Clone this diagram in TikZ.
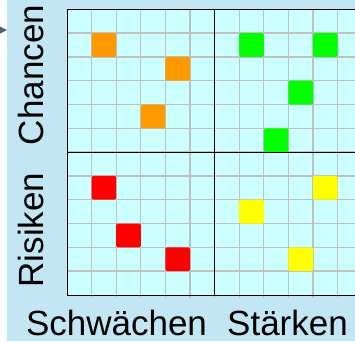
\documentclass[tikz,border=0pt]{standalone}
\usepackage{fontspec}
\setmainfont{Liberation Sans}
\definecolor{bgblue}{HTML}{C2E6F4}
\definecolor{cellc}{HTML}{CCFFFF}
\definecolor{gridc}{HTML}{C0C0C0}
\definecolor{orangec}{HTML}{FF9900}
\definecolor{greenc}{HTML}{00FF00}
\definecolor{redc}{HTML}{FF0000}
\definecolor{yellowc}{HTML}{FFFF00}
\definecolor{arrowc}{HTML}{4A6272}
\tikzset{
  gridline/.style={draw=gridc, line width=1.3pt},
  axisline/.style={draw=black, line width=1pt},
  sqmark/.style={fill=#1, rounded corners=1.5pt},
  lbl/.style={font=\fontsize{35}{40}\selectfont, inner sep=0pt, anchor=base}
}
\begin{document}
\begin{tikzpicture}[x=1pt,y=-1pt]
\useasboundingbox (0,0) rectangle (355,341);
\clip (0,0) rectangle (355,341);
\fill[bgblue] (7,0) rectangle (355,341);
\fill[arrowc] (0,26.5) -- (7,30) -- (0,33.5) -- cycle;
\fill[cellc] (67,9.3) rectangle (362,295);
\foreach \i in {1,...,11} {
  \draw[gridline] ({67+\i*24.6},9.3) -- ({67+\i*24.6},297.5);
  \draw[gridline] (67,{9.3+\i*23.8}) -- (362,{9.3+\i*23.8});
}
\foreach \c/\r/\col in {1/1/orangec,4/2/orangec,3/4/orangec,
  7/1/greenc,10/1/greenc,9/3/greenc,8/5/greenc,
  1/7/redc,2/9/redc,4/10/redc,
  10/7/yellowc,7/8/yellowc,9/10/yellowc} {
  \fill[sqmark=\col] ({67+\c*24.6},{9.3+\r*23.8}) rectangle ++(24.6,23.8);
}
\draw[axisline] (67,9.3) rectangle (362,295);
\draw[axisline] (214.6,9.3) -- (214.6,295);
\draw[axisline] (67,152.1) -- (362,152.1);
\node[lbl, rotate=90] (chancen) at (43,75) {Chancen};
\node[lbl, rotate=90] (risiken) at (43,230) {Risiken};
\node[lbl] (schwaechen) at (116.5,335) {Schwächen};
\node[lbl] (staerken) at (287.5,335) {Stärken};
\end{tikzpicture}
\end{document}
